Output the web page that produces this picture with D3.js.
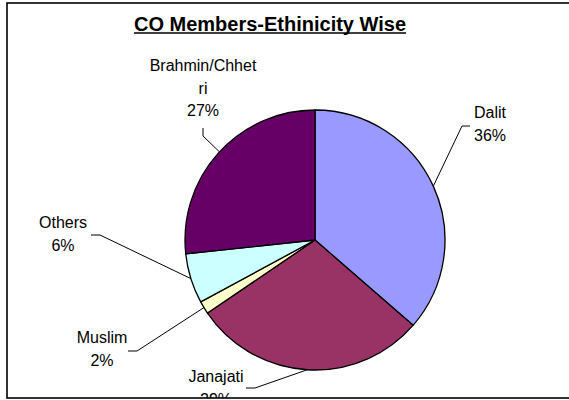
<!DOCTYPE html>
<html>
<head>
<meta charset="utf-8">
<script src="https://cdn.jsdelivr.net/npm/d3@7/dist/d3.min.js"></script>
<style>
  body { margin: 0; background: #fff; }
  text { font-family: "Liberation Sans", Arial, sans-serif; }
</style>
</head>
<body>
<svg width="569" height="400"></svg>
<script>
// chart data
var categories = ["Dalit", "Janajati", "Muslim", "Others", "Brahmin/Chhetri"];
var values = [36.4, 29.1, 1.6, 6.2, 26.7];
var labelLines = [["Dalit"], ["Janajati"], ["Muslim"], ["Others"], ["Brahmin/Chhet", "ri"]];
var colors = ["#9999FF", "#993366", "#FFFFCC", "#CCFFFF", "#660066"];

// label layout (text centre x, first baseline, leader elbow, tick end), per slice
var labelLayout = [
  { x: 490, y: 118, elbow: [462, 126], tick: [470, 126] },
  { x: 216, y: 382, elbow: [255, 388], tick: [246, 388] },
  { x: 102, y: 343, elbow: [137, 351], tick: [128, 351] },
  { x: 63, y: 228, elbow: [100, 235], tick: [91, 235] },
  { x: 203, y: 71, elbow: [203, 136], tick: [203, 128], angle: 312.7 }
];

var svg = d3.select("svg");
var cx = 315, cy = 240, r = 130;

svg.append("defs").append("clipPath").attr("id", "frame")
  .append("rect").attr("x", 7).attr("y", 3).attr("width", 600).attr("height", 395);

var g = svg.append("g").attr("clip-path", "url(#frame)");

// title
var title = g.append("text")
  .attr("x", 270).attr("y", 30.5)
  .attr("text-anchor", "middle")
  .style("font-size", "20px").style("font-weight", "bold")
  .text("CO Members-Ethinicity Wise");
var tb = title.node().getBBox();
g.append("line")
  .attr("x1", tb.x).attr("x2", tb.x + tb.width)
  .attr("y1", 33).attr("y2", 33)
  .attr("stroke", "#000").attr("stroke-width", 1.6);

var pie = d3.pie().sort(null)(values);
var arc = d3.arc().innerRadius(0).outerRadius(r);
var total = d3.sum(values);

var pg = g.append("g").attr("transform", "translate(" + cx + "," + cy + ")");
pg.selectAll("path")
  .data(pie)
  .enter()
  .append("path")
  .attr("d", arc)
  .attr("fill", function(d, i) { return colors[i]; })
  .attr("stroke", "#000")
  .attr("stroke-width", 1.3)
  .attr("stroke-linejoin", "round");

// leader lines + labels
pie.forEach(function(d, i) {
  var L = labelLayout[i];
  var a = L.angle != null ? L.angle * Math.PI / 180 : (d.startAngle + d.endAngle) / 2;
  var p = [cx + r * Math.sin(a), cy - r * Math.cos(a)];
  g.append("path")
    .attr("d", d3.line()([p, L.elbow, L.tick]))
    .attr("fill", "none")
    .attr("stroke", "#000")
    .attr("stroke-width", 1);

  var t = g.append("text")
    .attr("text-anchor", "middle")
    .style("font-size", "16px")
    .attr("fill", "#000");
  var lines = labelLines[i].concat([Math.round(values[i] / total * 100) + "%"]);
  lines.forEach(function(s, k) {
    t.append("tspan").attr("x", L.x).attr("y", L.y + k * 22.7).text(s);
  });
});

// frame
svg.append("rect")
  .attr("x", 7).attr("y", 3).attr("width", 600).attr("height", 395)
  .attr("fill", "none").attr("stroke", "#000").attr("stroke-width", 1.6);
</script>
</body>
</html>
